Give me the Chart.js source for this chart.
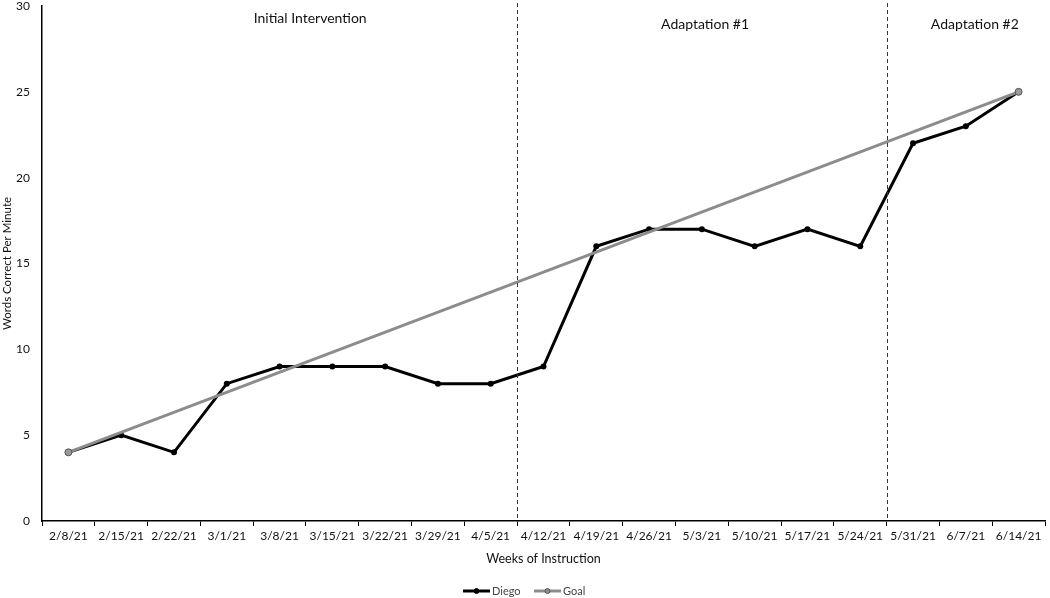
<!DOCTYPE html>
<html>
<head>
<meta charset="utf-8">
<script src="https://cdn.jsdelivr.net/npm/chart.js@4"></script>
<style>
  html, body { margin: 0; padding: 0; background: #fff; overflow: hidden; }
  #wrap { width: 1050px; height: 598px; }
  canvas { display: block; }
</style>
</head>
<body>
<div id="wrap"><canvas id="grafico" width="1050" height="598"></canvas></div>
<script>
const semanas = ['2/8/21', '2/15/21', '2/22/21', '3/1/21', '3/8/21', '3/15/21', '3/22/21', '3/29/21', '4/5/21',
    '4/12/21', '4/19/21', '4/26/21', '5/3/21', '5/10/21', '5/17/21', '5/24/21', '5/31/21', '6/7/21', '6/14/21'];
const diego = [4, 5, 4, 8, 9, 9, 9, 8, 8, 9, 16, 17, 17, 16, 17, 16, 22, 23, 25];
const metaInicio = 4;
const metaFin = 25;
const fases = ['Initial Intervention', 'Adaptation #1', 'Adaptation #2'];
const yTicks = [0, 5, 10, 15, 20, 25, 30];

// Goal: only endpoints, line spans the gap
const meta = semanas.map((s, i) => i === 0 ? metaInicio : (i === semanas.length - 1 ? metaFin : null));

const FUENTE = 'Lato, "Open Sans", sans-serif';

// cambios de fase (entre categorias) y posicion de los textos
const cortes = [8.5, 15.5];
const posFases = [{ x: 4.58, y: 18 }, { x: 12.06, y: 24 }, { x: 17.17, y: 24 }];

const fasesPlugin = {
    id: 'fases',
    afterDatasetsDraw(chart) {
        const ctx = chart.ctx;
        const xs = chart.scales.x;
        const area = chart.chartArea;
        ctx.save();
        ctx.strokeStyle = '#333';
        ctx.lineWidth = 1;
        ctx.setLineDash([4, 3]);
        cortes.forEach(c => {
            const px = Math.round(xs.getPixelForValue(c)) + 0.5;
            ctx.beginPath();
            ctx.moveTo(px, 3);
            ctx.lineTo(px, area.bottom);
            ctx.stroke();
        });
        ctx.setLineDash([]);
        ctx.fillStyle = '#111';
        ctx.font = '14px ' + FUENTE;
        ctx.textAlign = 'center';
        ctx.textBaseline = 'middle';
        fases.forEach((f, i) => {
            ctx.fillText(f, xs.getPixelForValue(posFases[i].x), posFases[i].y);
        });

        // leyenda
        const ly = 591;
        const items = [
            { label: 'Diego', color: '#000', fill: '#000', border: '#000', width: 3, x: 463 },
            { label: 'Goal', color: '#8c8c8c', fill: '#8c8c8c', border: '#555', width: 3, x: 534 }
        ];
        ctx.textAlign = 'left';
        ctx.font = '11px ' + FUENTE;
        items.forEach(it => {
            ctx.strokeStyle = it.color;
            ctx.lineWidth = it.width;
            ctx.beginPath();
            ctx.moveTo(it.x, ly);
            ctx.lineTo(it.x + 27, ly);
            ctx.stroke();
            ctx.beginPath();
            ctx.arc(it.x + 13.5, ly, 2.5, 0, Math.PI * 2);
            ctx.fillStyle = it.fill;
            ctx.fill();
            ctx.lineWidth = 1;
            ctx.strokeStyle = it.border;
            ctx.stroke();
            ctx.fillStyle = '#444';
            ctx.fillText(it.label, it.x + 29, ly);
        });
        ctx.restore();
    }
};

const ctx = document.getElementById('grafico').getContext('2d');
new Chart(ctx, {
    type: 'line',
    data: {
        labels: semanas,
        datasets: [
            {
                label: 'Diego',
                data: diego,
                borderColor: '#000',
                backgroundColor: '#000',
                borderWidth: 3,
                pointRadius: 3,
                pointBorderWidth: 0,
                pointBackgroundColor: '#000',
                tension: 0,
                order: 1
            },
            {
                label: 'Goal',
                data: meta,
                borderColor: '#8c8c8c',
                backgroundColor: '#8c8c8c',
                borderWidth: 3,
                pointRadius: 3.5,
                pointBorderWidth: 1,
                pointBorderColor: '#555',
                pointBackgroundColor: '#999',
                spanGaps: true,
                tension: 0,
                order: 0
            }
        ]
    },
    options: {
        responsive: false,
        animation: { duration: 0 },
        layout: { padding: { top: 6, right: 0, bottom: 32, left: 0 } },
        scales: {
            x: {
                offset: true,
                grid: { display: true, drawOnChartArea: false, drawTicks: true, tickLength: 5, color: '#000', offset: true },
                border: { display: true, color: '#000', width: 1.5 },
                ticks: { color: '#111', font: { family: FUENTE, size: 12 }, padding: 3, maxRotation: 0, autoSkip: false },
                title: { display: true, text: 'Weeks of Instruction', color: '#111', font: { family: FUENTE, size: 12.5 }, padding: { top: 2, bottom: 0 } },
                afterFit(scale) { scale.height = 45; scale.paddingRight = 0; scale.paddingLeft = 0; }
            },
            y: {
                min: 0,
                max: 30,
                afterBuildTicks(scale) { scale.ticks = yTicks.map(v => ({ value: v })); },
                grid: { display: false, drawTicks: false },
                border: { display: true, color: '#000', width: 1.5 },
                ticks: { color: '#111', font: { family: FUENTE, size: 12 }, padding: 12 },
                title: { display: true, text: 'Words Correct Per Minute', color: '#111', font: { family: FUENTE, size: 11.5 }, padding: 0 },
                afterFit(scale) {
                    scale.width = 42;
                    scale.paddingTop = 0; scale.paddingBottom = 0;
                    scale.paddingLeft = 0; scale.paddingRight = 0;
                }
            }
        },
        plugins: {
            legend: { display: false },
            tooltip: { enabled: false }
        }
    },
    plugins: [fasesPlugin]
});
</script>
</body>
</html>
